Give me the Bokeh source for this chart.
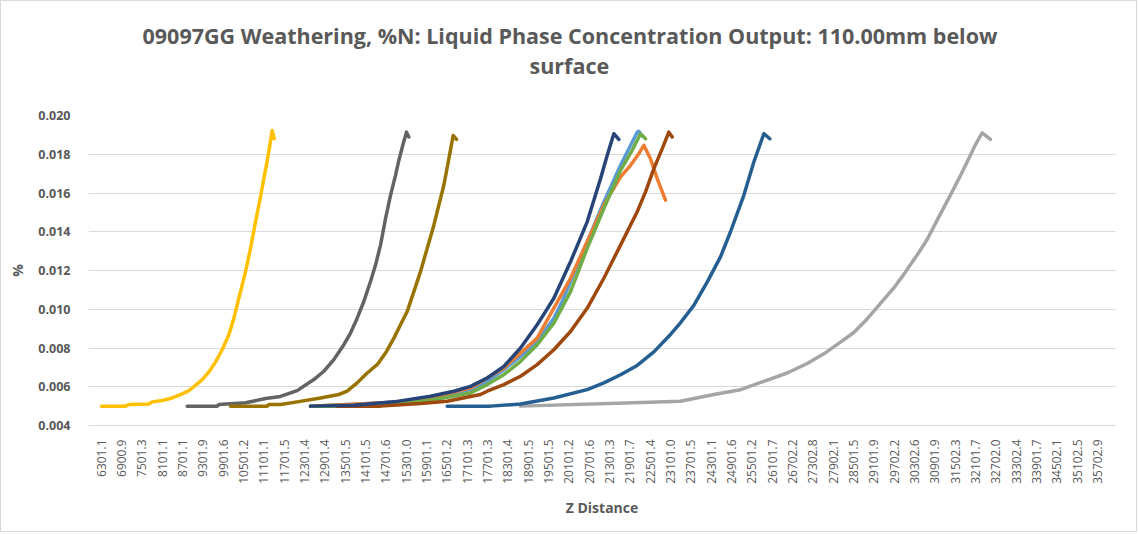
import math
from bokeh.plotting import figure
from bokeh.models import Range1d, FixedTicker, NumeralTickFormatter, Title
from bokeh.embed import file_html
from bokeh.resources import INLINE

title_lines = ["09097GG Weathering, %N: Liquid Phase Concentration Output: 110.00mm below", "surface"]

x_tick_values = [6301.1, 6900.9, 7501.3, 8101.1, 8701.1, 9301.9, 9901.6, 10501.2, 11101.1, 11701.5,
                 12301.4, 12901.4, 13501.5, 14101.5, 14701.6, 15301.0, 15901.1, 16501.2, 17101.3, 17701.3,
                 18301.4, 18901.5, 19501.5, 20101.2, 20701.6, 21301.3, 21901.7, 22501.4, 23101.0, 23701.5,
                 24301.1, 24901.6, 25501.2, 26101.7, 26702.2, 27302.8, 27902.1, 28501.5, 29101.9, 29702.2,
                 30302.6, 30901.9, 31502.3, 32101.7, 32702.0, 33302.4, 33901.7, 34502.1, 35102.5, 35702.9]
y_tick_values = [0.004, 0.006, 0.008, 0.010, 0.012, 0.014, 0.016, 0.018, 0.020]

# series values (Z distance, %N)
s_lightblue_x = [12477, 13755, 14936, 16019, 17199, 17691, 18183, 18675, 19166, 19658, 19904, 20150, 20396,
                 20642, 20888, 21134, 21380, 21626, 21872, 22118, 22167, 22265]
s_lightblue_y = [0.0050, 0.0051, 0.0052, 0.0054, 0.00585, 0.00628, 0.00688, 0.00757, 0.00834, 0.00954, 0.0104,
                 0.01143, 0.01245, 0.01348, 0.01451, 0.01554, 0.01648, 0.01743, 0.01828, 0.01914, 0.01918, 0.01894]

s_orange_x = [12477, 13755, 14936, 16019, 17199, 18183, 19166, 20150, 21134, 21626, 21921, 22167, 22314,
              22511, 22708, 22954]
s_orange_y = [0.0050, 0.0051, 0.0052, 0.0054, 0.00594, 0.00697, 0.00851, 0.0116, 0.01537, 0.01683, 0.01743,
              0.01803, 0.01846, 0.01777, 0.01674, 0.01563]

s_lightgray_x = [18675, 22019, 23396, 24380, 25167, 25855, 26544, 27135, 27626, 28118, 28511, 28904, 29298,
                 29691, 29986, 30379, 30675, 30970, 31364, 31659, 31855, 32101, 32298, 32544]
s_lightgray_y = [0.0050, 0.00517, 0.00525, 0.0056, 0.00585, 0.00628, 0.00671, 0.0072, 0.0077, 0.0083, 0.0088,
                 0.0095, 0.0103, 0.0111, 0.0118, 0.0128, 0.0136, 0.0146, 0.0159, 0.0169, 0.0176, 0.0185,
                 0.0191, 0.01877]

s_gold_x = [6310, 7018, 7117, 7707, 7805, 8101, 8396, 8691, 8887, 9084, 9281, 9478, 9674, 9871, 10068, 10215,
            10363, 10560, 10707, 10855, 10983, 11101, 11229, 11347, 11406]
s_gold_y = [0.0050, 0.0050, 0.00508, 0.00511, 0.00522, 0.00529, 0.00542, 0.00563, 0.0058, 0.00607, 0.00637,
            0.00676, 0.00727, 0.00791, 0.00868, 0.00954, 0.01057, 0.01194, 0.01314, 0.01451, 0.01563, 0.01674,
            0.01794, 0.01923, 0.0188]

s_green_x = [12477, 13755, 14936, 16019, 17199, 17691, 18183, 18675, 19166, 19658, 20150, 20642, 21134, 21626,
             21970, 22216, 22363]
s_green_y = [0.0050, 0.0050, 0.0051, 0.0053, 0.00568, 0.00611, 0.00662, 0.00731, 0.00817, 0.00928, 0.01091,
             0.01314, 0.0152, 0.01717, 0.0182, 0.01906, 0.0188]

s_medblue_x = [16510, 17789, 18675, 19658, 20642, 21134, 21626, 22118, 22610, 23101, 23396, 23789, 24183, 24576,
               24872, 25265, 25560, 25855, 26032]
s_medblue_y = [0.0050, 0.0050, 0.00511, 0.00542, 0.00585, 0.0062, 0.00662, 0.0071, 0.0078, 0.0087, 0.0093,
               0.0102, 0.0114, 0.0127, 0.0140, 0.01588, 0.0176, 0.01906, 0.0188]

s_brown_x = [13264, 14543, 15723, 16510, 17494, 17691, 18183, 18675, 19166, 19658, 20150, 20642, 21134, 21626,
             22118, 22364, 22610, 22855, 23052, 23151]
s_brown_y = [0.0050, 0.0050, 0.00513, 0.00525, 0.00560, 0.00577, 0.00611, 0.00654, 0.00714, 0.00791, 0.00885,
             0.01005, 0.0116, 0.01331, 0.01503, 0.01606, 0.01726, 0.01828, 0.01914, 0.01889]

s_darkgray_x = [8838, 9724, 9773, 10560, 11150, 11592, 12084, 12576, 12871, 13166, 13461, 13658, 13855, 14051,
                14248, 14396, 14543, 14691, 14838, 14986, 15084, 15212, 15310, 15379]
s_darkgray_y = [0.0050, 0.0050, 0.00508, 0.00517, 0.00539, 0.00550, 0.0058, 0.00637, 0.0068, 0.0074, 0.00817,
                0.00877, 0.00954, 0.0104, 0.01143, 0.01228, 0.01331, 0.01468, 0.01588, 0.01691, 0.01768, 0.01854,
                0.01914, 0.01889]

s_olive_x = [10117, 11199, 11248, 11592, 12084, 12772, 13313, 13559, 13855, 14150, 14445, 14691, 14938, 15133,
             15330, 15527, 15723, 15920, 16117, 16264, 16412, 16560, 16687, 16786]
s_olive_y = [0.0050, 0.0050, 0.00508, 0.00508, 0.00522, 0.00542, 0.0056, 0.00577, 0.0062, 0.00671, 0.00714,
             0.00774, 0.00851, 0.0092, 0.00988, 0.01091, 0.01194, 0.01314, 0.01434, 0.01537, 0.0164, 0.01777,
             0.01897, 0.01877]

s_navy_x = [12477, 13756, 14936, 16019, 16707, 17199, 17691, 18183, 18675, 19166, 19412, 19658, 19904, 20150,
            20396, 20642, 20839, 21036, 21232, 21429, 21576]
s_navy_y = [0.0050, 0.00505, 0.00522, 0.00551, 0.00577, 0.00602, 0.00645, 0.00705, 0.0080, 0.0092, 0.00988,
            0.01057, 0.01151, 0.01245, 0.01348, 0.01451, 0.01563, 0.01674, 0.01794, 0.01906, 0.01877]

series = [
    (s_lightblue_x, s_lightblue_y, "#5B9BD5"),
    (s_orange_x, s_orange_y, "#ED7D31"),
    (s_lightgray_x, s_lightgray_y, "#A5A5A5"),
    (s_gold_x, s_gold_y, "#FFC000"),
    (s_green_x, s_green_y, "#70AD47"),
    (s_medblue_x, s_medblue_y, "#255E91"),
    (s_brown_x, s_brown_y, "#9E480E"),
    (s_darkgray_x, s_darkgray_y, "#636363"),
    (s_olive_x, s_olive_y, "#997300"),
    (s_navy_x, s_navy_y, "#264478"),
]

FONT = "Open Sans"
TXT = "#595959"

p = figure(width=1137, height=532, output_backend="svg", toolbar_location=None, title=None,
           x_range=Range1d(5926, 36233), y_range=Range1d(0.004, 0.020),
           min_border_left=87, min_border_right=23, min_border_top=114, min_border_bottom=108)

t2 = Title(text=title_lines[1], align="left", offset=441, standoff=71,
           text_font=FONT, text_font_size="21.5px", text_font_style="bold", text_color=TXT)
t1 = Title(text=title_lines[0], align="left", offset=54, standoff=-73,
           text_font=FONT, text_font_size="21.5px", text_font_style="bold", text_color=TXT)
p.add_layout(t2, "above")
p.add_layout(t1, "above")

for xs, ys, c in series:
    p.line(xs, ys, line_color=c, line_width=3.5, line_join="round", line_cap="round")

p.outline_line_color = None
p.background_fill_color = "white"
p.border_fill_color = "white"
p.xgrid.grid_line_color = None
p.ygrid.grid_line_color = "#D9D9D9"
p.ygrid.grid_line_width = 1

p.xaxis.ticker = FixedTicker(ticks=x_tick_values)
p.xaxis.formatter = NumeralTickFormatter(format="0.0")
p.xaxis.major_label_orientation = math.pi / 2
p.xaxis.axis_line_color = "#D9D9D9"
p.xaxis.major_tick_line_color = None
p.xaxis.minor_tick_line_color = None
p.xaxis.major_label_text_font = FONT
p.xaxis.major_label_text_font_size = "12px"
p.xaxis.major_label_text_color = TXT
p.xaxis.major_label_standoff = 8
p.xaxis.axis_label = "Z Distance"
p.xaxis.axis_label_text_font = FONT
p.xaxis.axis_label_text_font_size = "14px"
p.xaxis.axis_label_text_font_style = "bold"
p.xaxis.axis_label_text_color = TXT
p.xaxis.axis_label_standoff = 11

p.yaxis.ticker = FixedTicker(ticks=y_tick_values)
p.yaxis.formatter = NumeralTickFormatter(format="0.000")
p.yaxis.axis_line_color = None
p.yaxis.major_tick_line_color = None
p.yaxis.minor_tick_line_color = None
p.yaxis.major_label_text_font = FONT
p.yaxis.major_label_text_font_size = "12.5px"
p.yaxis.major_label_text_font_style = "bold"
p.yaxis.major_label_text_color = TXT
p.yaxis.major_label_standoff = 12
p.yaxis.axis_label = "%"
p.yaxis.axis_label_text_font = FONT
p.yaxis.axis_label_text_font_size = "14px"
p.yaxis.axis_label_text_font_style = "bold"
p.yaxis.axis_label_text_color = TXT
p.yaxis.axis_label_standoff = 8

p.styles = {"border": "1px solid #D9D9D9"}

open("out.html", "w").write(file_html(p, INLINE))
